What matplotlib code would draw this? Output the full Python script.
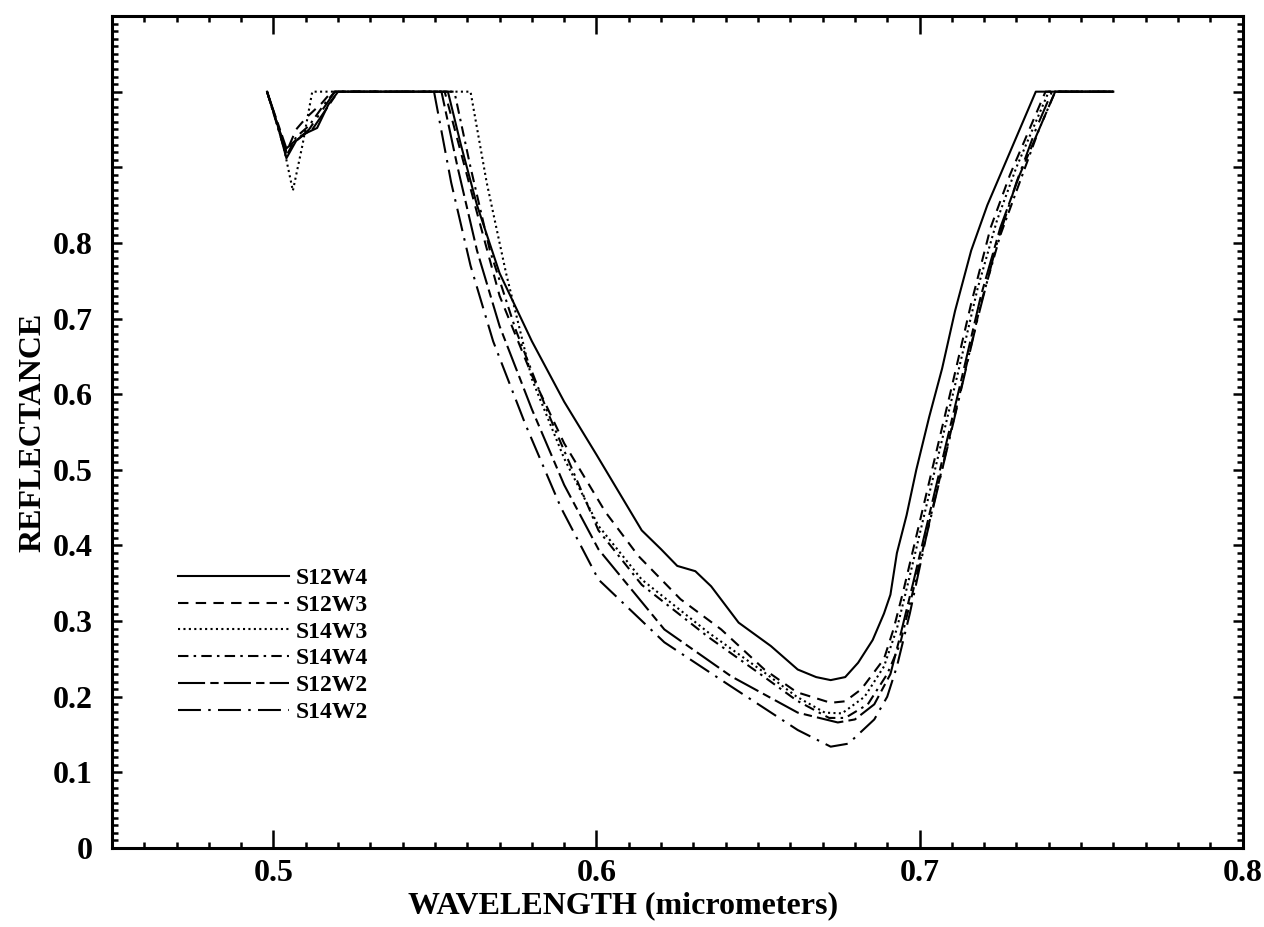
import matplotlib
matplotlib.use("Agg")
import matplotlib.pyplot as plt
from matplotlib.ticker import MultipleLocator, FuncFormatter

plt.rcParams['font.family'] = ['Liberation Serif', 'DejaVu Serif']
plt.rcParams['font.weight'] = 'bold'
plt.rcParams['axes.labelweight'] = 'bold'

# reflectance spectra
s12w4_x = [0.498, 0.501, 0.504, 0.507, 0.510, 0.5135, 0.517, 0.520, 0.554, 0.558, 0.563, 0.570,
           0.580, 0.590, 0.600, 0.607, 0.614, 0.620, 0.625, 0.6306, 0.6355, 0.644, 0.654, 0.6623,
           0.668, 0.6725, 0.677, 0.681, 0.6855, 0.689, 0.691, 0.693, 0.696, 0.699, 0.703, 0.707,
           0.711, 0.716, 0.721, 0.726, 0.730, 0.733, 0.736, 0.760]
s12w4_y = [1.0, 0.96, 0.912, 0.935, 0.945, 0.952, 0.983, 1.0, 1.0, 0.93, 0.85, 0.76,
           0.67, 0.59, 0.52, 0.47, 0.42, 0.395, 0.373, 0.366, 0.346, 0.298, 0.267, 0.236,
           0.226, 0.222, 0.226, 0.245, 0.275, 0.31, 0.335, 0.39, 0.44, 0.50, 0.57, 0.634,
           0.71, 0.79, 0.85, 0.90, 0.94, 0.97, 1.0, 1.0]

s12w3_x = [0.498, 0.504, 0.507, 0.510, 0.515, 0.518, 0.553, 0.558, 0.563, 0.570, 0.580, 0.590,
           0.6028, 0.613, 0.626, 0.6386, 0.652, 0.662, 0.6725, 0.677, 0.682, 0.689, 0.692, 0.695,
           0.700, 0.705, 0.710, 0.716, 0.722, 0.728, 0.734, 0.739, 0.760]
s12w3_y = [1.0, 0.92, 0.95, 0.965, 0.985, 1.0, 1.0, 0.92, 0.84, 0.73, 0.625, 0.535,
           0.444, 0.386, 0.329, 0.289, 0.236, 0.206, 0.192, 0.194, 0.21, 0.25, 0.29, 0.34,
           0.43, 0.52, 0.61, 0.72, 0.82, 0.89, 0.95, 1.0, 1.0]

s14w3_x = [0.498, 0.503, 0.506, 0.509, 0.512, 0.561, 0.566, 0.572, 0.580, 0.590, 0.6006, 0.614,
           0.6346, 0.652, 0.662, 0.6707, 0.676, 0.683, 0.689, 0.693, 0.697, 0.702, 0.707, 0.712,
           0.718, 0.724, 0.730, 0.736, 0.740, 0.760]
s14w3_y = [1.0, 0.93, 0.869, 0.93, 1.0, 1.0, 0.88, 0.76, 0.62, 0.515, 0.426, 0.355,
           0.285, 0.232, 0.20, 0.179, 0.178, 0.20, 0.24, 0.29, 0.36, 0.45, 0.54, 0.63,
           0.74, 0.83, 0.90, 0.96, 1.0, 1.0]

s14w4_x = [0.498, 0.504, 0.507, 0.511, 0.516, 0.519, 0.556, 0.561, 0.567, 0.575, 0.585, 0.6006,
           0.614, 0.6346, 0.652, 0.662, 0.672, 0.677, 0.684, 0.690, 0.694, 0.698, 0.703, 0.708,
           0.713, 0.719, 0.725, 0.731, 0.737, 0.742, 0.760]
s14w4_y = [1.0, 0.915, 0.94, 0.955, 0.985, 1.0, 1.0, 0.90, 0.79, 0.685, 0.575, 0.42,
           0.348, 0.279, 0.226, 0.195, 0.172, 0.172, 0.19, 0.23, 0.27, 0.34, 0.43, 0.52,
           0.61, 0.72, 0.81, 0.88, 0.95, 1.0, 1.0]

s12w2_x = [0.498, 0.504, 0.508, 0.512, 0.516, 0.520, 0.552, 0.557, 0.563, 0.570, 0.580, 0.590,
           0.6006, 0.621, 0.6417, 0.6623, 0.6747, 0.680, 0.686, 0.689, 0.691, 0.694, 0.698, 0.703,
           0.708, 0.713, 0.719, 0.725, 0.731, 0.737, 0.742, 0.760]
s12w2_y = [1.0, 0.925, 0.94, 0.95, 0.975, 1.0, 1.0, 0.90, 0.79, 0.69, 0.58, 0.48,
           0.395, 0.289, 0.227, 0.179, 0.166, 0.17, 0.19, 0.214, 0.23, 0.28, 0.35, 0.44,
           0.53, 0.62, 0.73, 0.82, 0.89, 0.95, 1.0, 1.0]

s14w2_x = [0.498, 0.504, 0.507, 0.511, 0.515, 0.519, 0.5497, 0.555, 0.561, 0.568, 0.578, 0.589,
           0.6006, 0.621, 0.6417, 0.6623, 0.6725, 0.678, 0.686, 0.690, 0.693, 0.697, 0.702, 0.707,
           0.712, 0.718, 0.724, 0.730, 0.736, 0.741, 0.760]
s14w2_y = [1.0, 0.92, 0.935, 0.95, 0.975, 1.0, 1.0, 0.88, 0.77, 0.67, 0.56, 0.45,
           0.355, 0.272, 0.2135, 0.156, 0.134, 0.138, 0.17, 0.20, 0.24, 0.31, 0.41, 0.50,
           0.59, 0.70, 0.80, 0.88, 0.95, 1.0, 1.0]

labels = ['S12W4', 'S12W3', 'S14W3', 'S14W4', 'S12W2', 'S14W2']

fig = plt.figure(figsize=(12.64, 9.27), dpi=100)
ax = fig.add_axes([0.0886, 0.0852, 0.8944, 0.8975])

ax.plot(s12w4_x, s12w4_y, color='black', lw=1.5, ls='-', label=labels[0])
ax.plot(s12w3_x, s12w3_y, color='black', lw=1.5, ls=(0, (5, 3.5)), label=labels[1])
ax.plot(s14w3_x, s14w3_y, color='black', lw=1.5, ls=(0, (1, 1.6)), label=labels[2])
ax.plot(s14w4_x, s14w4_y, color='black', lw=1.5, ls=(0, (5, 2.5, 1.2, 2.5)), label=labels[3])
ax.plot(s12w2_x, s12w2_y, color='black', lw=1.5, ls=(0, (13, 2.5, 4, 2.5)), label=labels[4])
ax.plot(s14w2_x, s14w2_y, color='black', lw=1.5, ls=(0, (11, 3.5, 1.2, 3.5)), label=labels[5])

ax.set_xlim(0.45, 0.8)
ax.set_ylim(0, 1.1)

ax.xaxis.set_major_locator(MultipleLocator(0.1))
ax.xaxis.set_minor_locator(MultipleLocator(0.01))
ax.yaxis.set_major_locator(MultipleLocator(0.1))
ax.yaxis.set_minor_locator(MultipleLocator(0.01))

def xfmt(v, pos):
    return '%.1f' % v if v > 0.46 else ''

def yfmt(v, pos):
    if v < 0.01:
        return '0'
    if v > 0.85:
        return ''
    return '%.1f' % v

ax.xaxis.set_major_formatter(FuncFormatter(xfmt))
ax.yaxis.set_major_formatter(FuncFormatter(yfmt))

ax.tick_params(which='both', direction='in', top=True, right=True, width=1.8, labelsize=23)
ax.tick_params(axis='x', which='major', length=13, pad=8)
ax.tick_params(axis='y', which='major', length=7, pad=14)
ax.tick_params(which='minor', length=4)
for sp in ax.spines.values():
    sp.set_linewidth(2.2)

ax.set_xlabel('WAVELENGTH (micrometers)', fontsize=23)
ax.xaxis.set_label_coords(0.452, -0.052, transform=ax.transAxes)
ax.xaxis.label.set_va('top')
ax.set_ylabel('REFLECTANCE', fontsize=23, labelpad=4)

ax.legend(loc='upper left', bbox_to_anchor=(0.058, 0.337), frameon=False, fontsize=17,
          handlelength=4.7, handletextpad=0.3, labelspacing=0.22, borderpad=0, borderaxespad=0)

fig.savefig('out.png', dpi=100)
